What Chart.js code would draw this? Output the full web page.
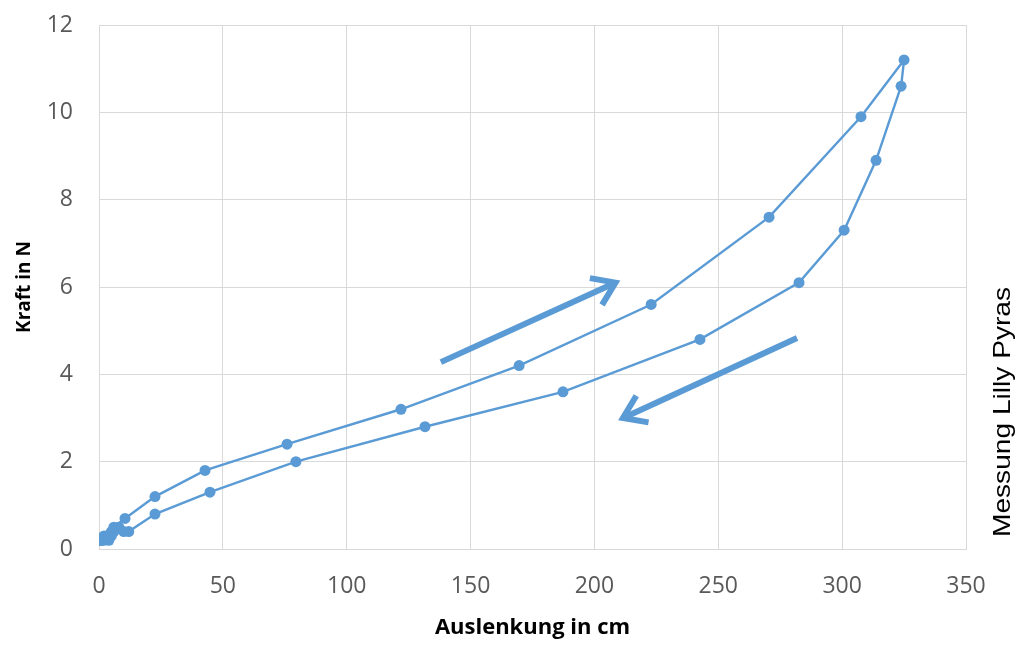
<!DOCTYPE html>
<html>
<head>
<meta charset="utf-8">
<script src="https://cdn.jsdelivr.net/npm/chart.js@4"></script>
<style>
  html, body { margin: 0; padding: 0; background: #fff; }
</style>
</head>
<body>
<canvas id="chart" width="1033" height="651"></canvas>
<script>
'use strict';

// loading branch (Auslenkung in cm / Kraft in N)
const loadX = [0, 1, 2, 3, 4, 5, 6, 10.5, 22.6, 42.8, 75.9, 121.9, 169.6, 222.9, 270.5, 307.6, 325];
const loadY = [0.2, 0.2, 0.3, 0.3, 0.3, 0.4, 0.5, 0.7, 1.2, 1.8, 2.4, 3.2, 4.2, 5.6, 7.6, 9.9, 11.2];

// unloading branch
const unloadX = [323.8, 313.7, 300.8, 282.6, 242.6, 187.3, 131.6, 79.5, 44.8, 22.6, 12, 10, 8, 6, 5, 4, 2, 1];
const unloadY = [10.6, 8.9, 7.3, 6.1, 4.8, 3.6, 2.8, 2.0, 1.3, 0.8, 0.4, 0.4, 0.5, 0.4, 0.3, 0.2, 0.2, 0.2];

// direction arrows, [x0, y0, x1, y1] in data units
const arrowUp = [138, 4.28, 208.5, 6.1];
const arrowDown = [281.8, 4.83, 211.5, 3.0];

const xTicks = [0, 50, 100, 150, 200, 250, 300, 350];
const yTicks = [0, 2, 4, 6, 8, 10, 12];

const blue = '#5b9bd5';
const grey = '#595959';
const gridColor = '#d9d9d9';

const points = loadX.map((x, i) => ({ x, y: loadY[i] }))
  .concat(unloadX.map((x, i) => ({ x, y: unloadY[i] })));

const arrowPlugin = {
  id: 'arrows',
  afterDatasetsDraw: (chart) => {
    const { ctx } = chart;
    const xs = chart.scales.x;
    const ys = chart.scales.y;
    [arrowUp, arrowDown].forEach(a => {
      const x0 = xs.getPixelForValue(a[0]);
      const y0 = ys.getPixelForValue(a[1]);
      const x1 = xs.getPixelForValue(a[2]);
      const y1 = ys.getPixelForValue(a[3]);
      const ang = Math.atan2(y1 - y0, x1 - x0);
      const head = 26;
      ctx.save();
      ctx.strokeStyle = blue;
      ctx.lineWidth = 6;
      ctx.lineCap = 'butt';
      ctx.beginPath();
      ctx.moveTo(x0, y0);
      ctx.lineTo(x1 - 2 * Math.cos(ang), y1 - 2 * Math.sin(ang));
      ctx.stroke();
      ctx.lineJoin = 'miter';
      ctx.beginPath();
      ctx.moveTo(x1 - head * Math.cos(ang - 0.6), y1 - head * Math.sin(ang - 0.6));
      ctx.lineTo(x1, y1);
      ctx.lineTo(x1 - head * Math.cos(ang + 0.6), y1 - head * Math.sin(ang + 0.6));
      ctx.stroke();
      ctx.restore();
    });

    // side note
    const text = 'Messung Lilly Pyras';
    ctx.save();
    ctx.font = '24px "Liberation Sans", Arial, sans-serif';
    ctx.fillStyle = '#000';
    ctx.translate(1003, 412);
    ctx.rotate(-Math.PI / 2);
    const w = ctx.measureText(text).width;
    ctx.scale(250 / w, 1);
    ctx.textAlign = 'center';
    ctx.textBaseline = 'middle';
    ctx.fillText(text, 0, 0);
    ctx.restore();
  },
};

new Chart(document.getElementById('chart'), {
  type: 'scatter',
  data: {
    datasets: [{
      data: points,
      showLine: true,
      borderColor: blue,
      backgroundColor: blue,
      borderWidth: 2.4,
      pointRadius: 5.5,
      pointBorderWidth: 0,
      tension: 0,
    }],
  },
  options: {
    responsive: false,
    animation: false,
    layout: { padding: { top: 25, right: 67, left: 0, bottom: 0 } },
    plugins: {
      legend: { display: false },
      tooltip: { enabled: false },
    },
    scales: {
      x: {
        type: 'linear',
        min: 0,
        max: 350,
        afterBuildTicks: axis => { axis.ticks = xTicks.map(value => ({ value })); },
        afterFit: axis => { axis.height = 102; },
        grid: { color: gridColor, drawTicks: false },
        border: { color: gridColor },
        ticks: {
          padding: 24,
          color: grey,
          font: { family: '"Open Sans", sans-serif', size: 23 },
        },
        title: {
          display: true,
          text: 'Auslenkung in cm',
          color: '#000',
          padding: { top: 0, bottom: 10 },
          font: { family: '"Open Sans", sans-serif', size: 22, weight: 'bold' },
        },
      },
      y: {
        type: 'linear',
        min: 0,
        max: 12,
        afterBuildTicks: axis => { axis.ticks = yTicks.map(value => ({ value })); },
        afterFit: axis => {
          axis.width = 99;
          axis.paddingTop = 0;
          axis.paddingBottom = 0;
        },
        grid: { color: gridColor, drawTicks: false },
        border: { color: gridColor },
        ticks: {
          padding: 26,
          color: grey,
          font: { family: '"Open Sans", sans-serif', size: 23 },
        },
        title: {
          display: true,
          text: 'Kraft in N',
          color: '#000',
          padding: { top: 13, bottom: 0 },
          font: { family: '"Open Sans", sans-serif', size: 19, weight: 'bold' },
        },
      },
    },
  },
  plugins: [arrowPlugin],
});
</script>
</body>
</html>
